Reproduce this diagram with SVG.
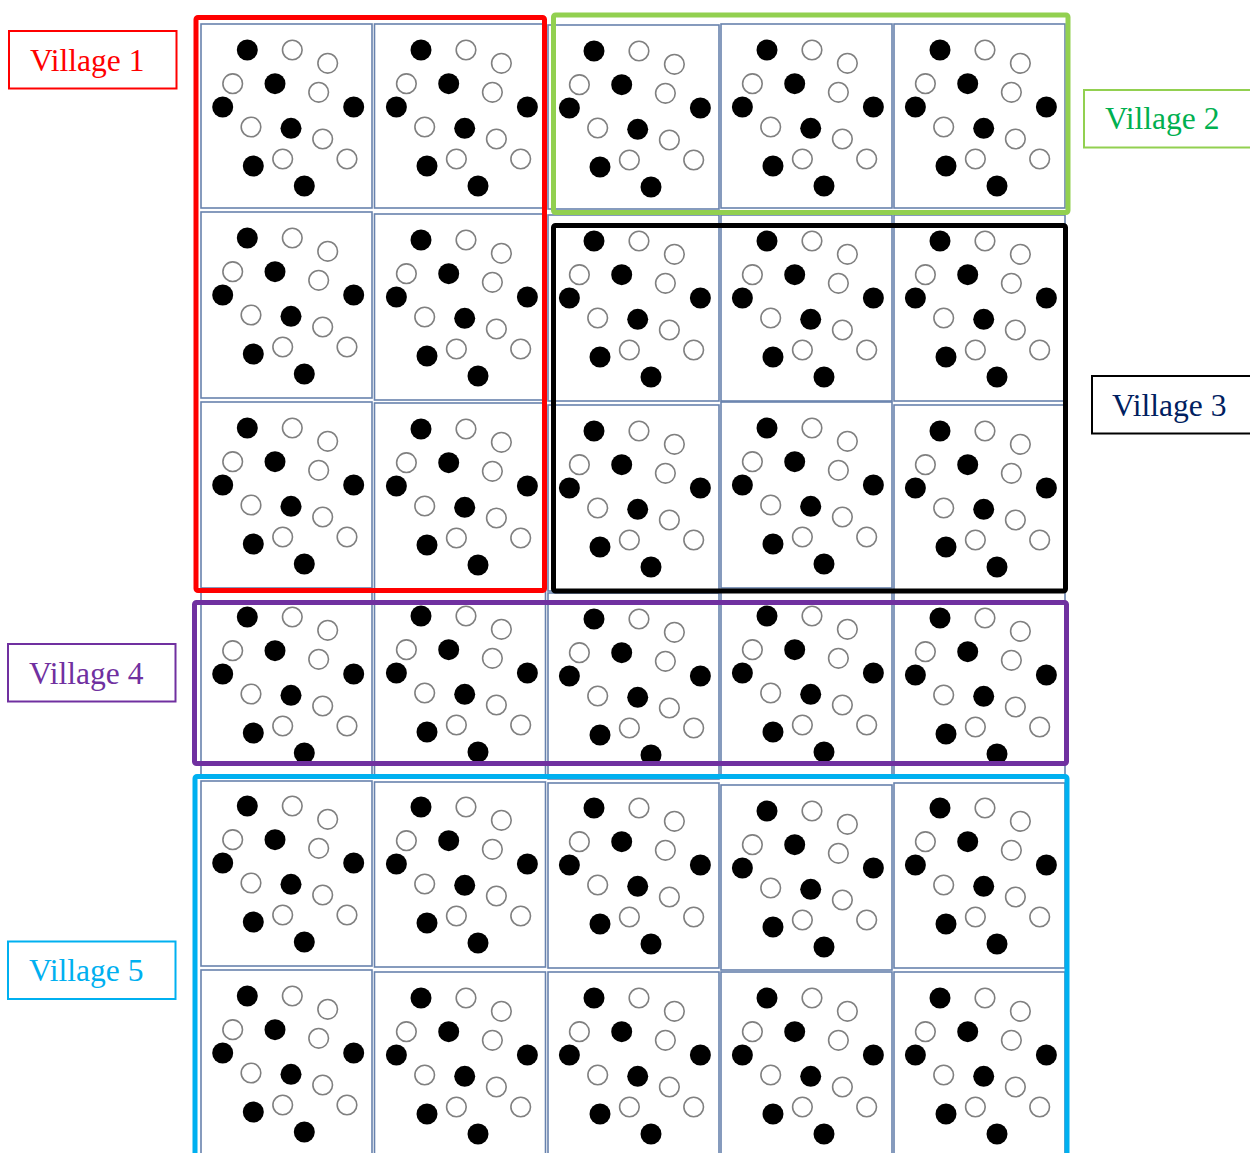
<svg xmlns="http://www.w3.org/2000/svg" xmlns:xlink="http://www.w3.org/1999/xlink" width="1250" height="1153" viewBox="0 0 1250 1153">
<style>
.cell{fill:#fff;stroke:#6882ad;stroke-width:1.6}
.b{fill:#000}
.o{fill:#fff;stroke:#808080;stroke-width:1.6}
.vbox{fill:none;stroke-width:5}
.lab{fill:#fff;stroke-width:2}
.lt{font-family:"Liberation Serif","Times New Roman",serif;font-size:31.5px}
</style>
<defs>
<g id="pat">
<circle class="b" cx="0" cy="0" r="10.5"/>
<circle class="o" cx="45" cy="0" r="9.8"/>
<circle class="o" cx="80.4" cy="13.3" r="9.8"/>
<circle class="o" cx="-14.6" cy="33.7" r="9.8"/>
<circle class="b" cx="27.7" cy="33.7" r="10.5"/>
<circle class="o" cx="71.4" cy="42.3" r="9.8"/>
<circle class="b" cx="-24.6" cy="57" r="10.5"/>
<circle class="b" cx="106.4" cy="57" r="10.5"/>
<circle class="o" cx="3.7" cy="77" r="9.8"/>
<circle class="b" cx="43.7" cy="78.3" r="10.5"/>
<circle class="o" cx="75.4" cy="89" r="9.8"/>
<circle class="o" cx="35.4" cy="109" r="9.8"/>
<circle class="o" cx="99.7" cy="109" r="9.8"/>
<circle class="b" cx="6" cy="116" r="10.5"/>
<circle class="b" cx="57" cy="136" r="10.5"/>
</g>
</defs>
<rect width="1250" height="1153" fill="#fff"/>
<g id="cells">
<rect class="cell" x="201" y="24" width="171" height="184"/>
<rect class="cell" x="374.5" y="24" width="171" height="184"/>
<rect class="cell" x="548" y="25" width="171" height="184"/>
<rect class="cell" x="721" y="24" width="171" height="184"/>
<rect class="cell" x="894" y="24" width="171" height="184"/>
<rect class="cell" x="201" y="212" width="171" height="186"/>
<rect class="cell" x="374.5" y="214" width="171" height="186"/>
<rect class="cell" x="548" y="215" width="171" height="186"/>
<rect class="cell" x="721" y="215" width="171" height="186"/>
<rect class="cell" x="894" y="215" width="171" height="186"/>
<rect class="cell" x="201" y="402" width="171" height="186"/>
<rect class="cell" x="374.5" y="403" width="171" height="186"/>
<rect class="cell" x="548" y="405" width="171" height="186"/>
<rect class="cell" x="721" y="402" width="171" height="186"/>
<rect class="cell" x="894" y="405" width="171" height="186"/>
<rect class="cell" x="201" y="591" width="171" height="186"/>
<rect class="cell" x="374.5" y="590" width="171" height="186"/>
<rect class="cell" x="548" y="593" width="171" height="186"/>
<rect class="cell" x="721" y="590" width="171" height="186"/>
<rect class="cell" x="894" y="592" width="171" height="186"/>
<rect class="cell" x="201" y="781" width="171" height="185"/>
<rect class="cell" x="374.5" y="782" width="171" height="185"/>
<rect class="cell" x="548" y="783" width="171" height="185"/>
<rect class="cell" x="721" y="785" width="171" height="185"/>
<rect class="cell" x="894" y="783" width="171" height="185"/>
<rect class="cell" x="201" y="970" width="171" height="190"/>
<rect class="cell" x="374.5" y="972" width="171" height="190"/>
<rect class="cell" x="548" y="972" width="171" height="190"/>
<rect class="cell" x="721" y="972" width="171" height="190"/>
<rect class="cell" x="894" y="972" width="171" height="190"/>
</g>
<g id="dots">
<use xlink:href="#pat" x="247.3" y="50"/>
<use xlink:href="#pat" x="421" y="50"/>
<use xlink:href="#pat" x="594" y="51"/>
<use xlink:href="#pat" x="767" y="50"/>
<use xlink:href="#pat" x="940" y="50"/>
<use xlink:href="#pat" x="247.3" y="238"/>
<use xlink:href="#pat" x="421" y="240"/>
<use xlink:href="#pat" x="594" y="241"/>
<use xlink:href="#pat" x="767" y="241"/>
<use xlink:href="#pat" x="940" y="241"/>
<use xlink:href="#pat" x="247.3" y="428"/>
<use xlink:href="#pat" x="421" y="429"/>
<use xlink:href="#pat" x="594" y="431"/>
<use xlink:href="#pat" x="767" y="428"/>
<use xlink:href="#pat" x="940" y="431"/>
<use xlink:href="#pat" x="247.3" y="617"/>
<use xlink:href="#pat" x="421" y="616"/>
<use xlink:href="#pat" x="594" y="619"/>
<use xlink:href="#pat" x="767" y="616"/>
<use xlink:href="#pat" x="940" y="618"/>
<use xlink:href="#pat" x="247.3" y="806"/>
<use xlink:href="#pat" x="421" y="807"/>
<use xlink:href="#pat" x="594" y="808"/>
<use xlink:href="#pat" x="767" y="811"/>
<use xlink:href="#pat" x="940" y="808"/>
<use xlink:href="#pat" x="247.3" y="996"/>
<use xlink:href="#pat" x="421" y="998"/>
<use xlink:href="#pat" x="594" y="998"/>
<use xlink:href="#pat" x="767" y="998"/>
<use xlink:href="#pat" x="940" y="998"/>
</g>
<g id="village1">
<rect class="vbox" x="196" y="17.5" width="348.5" height="573" rx="2" stroke="#ff0000"/>
<rect class="lab" x="9" y="31" width="167.5" height="57.5" stroke="#ff0000"/>
<text class="lt" x="30" y="70.5" fill="#ff0000">Village 1</text>
</g>
<g id="village2">
<rect class="vbox" x="553.5" y="15" width="514.5" height="197.5" rx="2" stroke="#92d050"/>
<rect class="lab" x="1084" y="90" width="180" height="57.5" stroke="#92d050"/>
<text class="lt" x="1105" y="129" fill="#00b050">Village 2</text>
</g>
<g id="village3">
<rect class="vbox" x="553.5" y="225.5" width="512" height="365.5" rx="2" stroke="#000000"/>
<rect class="lab" x="1092" y="376" width="180" height="57.5" stroke="#000000"/>
<text class="lt" x="1112" y="415.5" fill="#002060">Village 3</text>
</g>
<g id="village4">
<rect class="vbox" x="194.5" y="602.5" width="872" height="161" rx="2" stroke="#7030a0"/>
<rect class="lab" x="8" y="644" width="167.5" height="57.5" stroke="#7030a0"/>
<text class="lt" x="29" y="683.5" fill="#7030a0">Village 4</text>
</g>
<g id="village5">
<rect class="vbox" x="195" y="776.5" width="872" height="400" rx="2" stroke="#00b0f0"/>
<rect class="lab" x="8" y="941.5" width="167.5" height="57.5" stroke="#00b0f0"/>
<text class="lt" x="29" y="981" fill="#00b0f0">Village 5</text>
</g>
</svg>
